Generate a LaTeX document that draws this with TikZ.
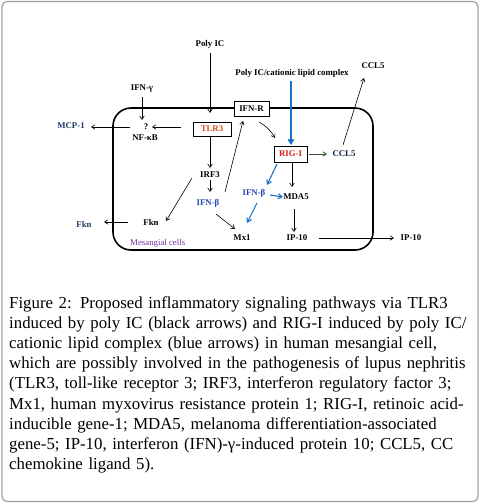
\documentclass[tikz,border=0pt]{standalone}
\usepackage{fontspec}
\setmainfont{Liberation Serif}
\usetikzlibrary{arrows.meta,calc}
\definecolor{ablue}{HTML}{1A72C8}
\definecolor{tblue}{HTML}{2148B4}
\definecolor{navy}{HTML}{203864}
\definecolor{tlrc}{HTML}{D9541E}
\definecolor{rigc}{HTML}{E0201C}
\definecolor{mesc}{HTML}{7030A0}
\definecolor{dgreen}{HTML}{2F4F2F}
\begin{document}
\begin{tikzpicture}[x=1pt,y=-1pt,
  lbl/.style={font=\fontsize{8.8}{10}\selectfont\bfseries, inner sep=1pt},
  boxn/.style={lbl, draw, line width=0.9pt, fill=white},
  arr/.style={-{Straight Barb[length=3.5pt,width=4.5pt]}, line width=0.6pt},
  barr/.style={-{Straight Barb[length=4pt,width=5pt]}, draw=ablue, line width=1.1pt}]
\useasboundingbox (0,0) rectangle (482,504);
% outer frame
\draw[gray!75, line width=1.2pt, rounded corners=5pt] (2,1.5) rectangle (478,501.5);
% cell
\draw[line width=1.6pt, rounded corners=18pt] (113,108) rectangle (373,250);
% labels
\node[lbl] (polyic) at (210,44) {Poly IC};
\node[lbl] (cat) at (292,73) {Poly IC/cationic lipid complex};
\node[lbl] (ccl5top) at (373,66) {CCL5};
\node[lbl] (ifng) at (142,89) {IFN-γ};
\node[lbl] (q) at (146,127) {?};
\node[lbl] (nfkb) at (145,138) {NF-κB};
\node[lbl, text=navy] (mcp) at (71,126) {MCP-1};
\node[boxn, minimum width=38pt, minimum height=14pt, text=tlrc] (tlr3) at (212,129) {TLR3};
\node[boxn, minimum width=35pt, minimum height=15pt] (ifnr) at (251.5,108.5) {IFN-R};
\node[boxn, minimum width=33pt, minimum height=16pt, text=rigc] (rig) at (290.5,154) {RIG-I};
\node[lbl, text=navy!60!black] (ccl5) at (344,154) {CCL5};
\node[lbl] (irf3) at (210,175) {IRF3};
\node[lbl, text=tblue] (ifnbl) at (208,203) {IFN-β};
\node[lbl, text=tblue] (ifnbr) at (254,193) {IFN-β};
\node[lbl] (mda5) at (296,197) {MDA5};
\node[lbl] (fkn) at (151,222) {Fkn};
\node[lbl, text=navy] (fknout) at (84,224) {Fkn};
\node[lbl] (mx1) at (242,238) {Mx1};
\node[lbl] (ip10) at (297,238) {IP-10};
\node[lbl] (ip10out) at (411,238) {IP-10};
\node[lbl, font=\fontsize{8.8}{10}\selectfont, text=mesc, anchor=west] (mes) at (129,243) {Mesangial cells};
% black arrows
\draw[arr] ($(polyic)+(0,9)$) -- ($(tlr3)+(-2,-16)$);
\draw[arr] ($(tlr3)+(-2,8)$) -- ($(irf3)+(0,-7)$);
\draw[arr] ($(irf3)+(0,5)$) -- ($(ifnbl)+(2,-11)$);
\draw[arr] ($(irf3)+(-18,3)$) -- ($(fkn)+(15,-1)$);
\draw[arr] ($(fkn)+(-23,0)$) -- ($(fknout)+(20,-2)$);
\draw[arr] ($(tlr3)+(-31,-2)$) -- ($(q)+(6,0)$);
\draw[arr] ($(q)+(-16,0)$) -- ($(mcp)+(20,1)$);
\draw[arr] ($(ifng)+(0,8)$) -- ($(q)+(-4,-7)$);
\draw[arr] ($(ifnbl)+(17,-11)$) -- ($(ifnr)+(-8.5,12.5)$);
\draw[arr] ($(ifnr)+(7.5,13.5)$) to[bend left=15] ($(rig)+(-15.5,-16)$);
\draw[-{Straight Barb[length=3.5pt,width=4.5pt]}, line width=0.8pt, draw=dgreen] ($(rig)+(18.5,0)$) -- ($(ccl5)+(-17,0)$);
\draw[arr] ($(ccl5)+(-1,-9)$) -- ($(ccl5top)+(-9,12)$);
\draw[arr] ($(rig)+(1.5,8)$) -- ($(mda5)+(-4,-10)$);
\draw[arr] ($(ifnbl)+(8,11)$) -- ($(mx1)+(-7,-9)$);
\draw[arr] ($(mda5)+(-2,12)$) -- ($(ip10)+(-3,-6)$);
\draw[arr] ($(ip10)+(22,0)$) -- ($(ip10out)+(-17,0)$);
% blue arrows
\draw[barr, line width=1.8pt] ($(cat)+(-1,8)$) -- ($(rig)+(0.5,-9)$);
\draw[barr] ($(rig)+(-13.5,10)$) -- ($(ifnbr)+(13,-8)$);
\draw[barr] ($(ifnbr)+(16,2)$) -- ($(mda5)+(-13,0)$);
\draw[barr] ($(ifnbr)+(3,10)$) -- ($(mx1)+(5,-15)$);
% caption
\node[anchor=base west, inner sep=0, text width=461pt, font=\fontsize{16.8}{20.2}\selectfont] (cap) at (9,308) {\noindent
\makebox[\linewidth][s]{Figure 2: Proposed inflammatory signaling pathways via TLR3}\\
\makebox[\linewidth][s]{induced by poly IC (black arrows) and RIG-I induced by poly IC/}\\
\makebox[\linewidth][s]{cationic lipid complex (blue arrows) in human mesangial cell,}\\
\makebox[\linewidth][s]{which are possibly involved in the pathogenesis of lupus nephritis}\\
\makebox[\linewidth][s]{(TLR3, toll-like receptor 3; IRF3, interferon regulatory factor 3;}\\
\makebox[\linewidth][s]{Mx1, human myxovirus resistance protein 1; RIG-I, retinoic acid-}\\
\makebox[\linewidth][s]{inducible gene-1; MDA5, melanoma differentiation-associated}\\
\makebox[\linewidth][s]{gene-5; IP-10, interferon (IFN)-γ-induced protein 10; CCL5, CC}\\
chemokine ligand 5).};
\end{tikzpicture}
\end{document}
